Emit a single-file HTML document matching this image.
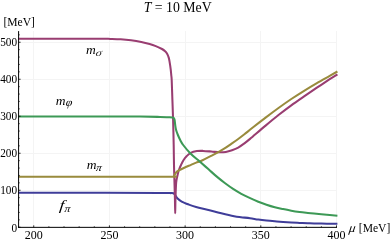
<!DOCTYPE html>
<html><head><meta charset="utf-8"><style>
html,body{margin:0;padding:0;background:#fff;}
body{width:390px;height:242px;overflow:hidden;font-family:"Liberation Serif",serif;}
svg{display:block;will-change:transform;opacity:0.999;}
text{font-family:"Liberation Serif",serif;font-size:12px;fill:#000;}
.i{font-style:italic;}
</style></head><body>
<svg width="390" height="242" viewBox="0 0 390 242">
<rect width="390" height="242" fill="#fff"/>
<g stroke="#f4f4f4" stroke-width="1"><line x1="33.50" y1="31" x2="33.50" y2="227.2"/><line x1="109.50" y1="31" x2="109.50" y2="227.2"/><line x1="185.50" y1="31" x2="185.50" y2="227.2"/><line x1="260.50" y1="31" x2="260.50" y2="227.2"/><line x1="336.50" y1="31" x2="336.50" y2="227.2"/><line x1="19" y1="42.50" x2="337" y2="42.50"/><line x1="19" y1="79.50" x2="337" y2="79.50"/><line x1="19" y1="116.50" x2="337" y2="116.50"/><line x1="19" y1="153.50" x2="337" y2="153.50"/><line x1="19" y1="190.50" x2="337" y2="190.50"/></g>
<path d="M18.30 192.70 C31.92 192.72 76.38 192.74 100.00 192.80 C123.62 192.86 148.33 193.00 160.00 193.05 C171.67 193.10 167.77 193.06 170.00 193.10 C172.23 193.14 172.52 192.93 173.40 193.30 C174.28 193.67 174.65 194.48 175.30 195.30 C175.95 196.12 176.23 197.15 177.30 198.20 C178.37 199.25 179.77 200.53 181.70 201.60 C183.63 202.67 186.50 203.72 188.90 204.60 C191.30 205.48 192.83 206.00 196.10 206.90 C199.37 207.80 204.30 208.93 208.50 210.00 C212.70 211.07 217.03 212.27 221.30 213.30 C225.57 214.33 230.82 215.55 234.10 216.20 C237.38 216.85 238.35 216.87 241.00 217.20 C243.65 217.53 247.12 217.80 250.00 218.20 C252.88 218.60 255.55 219.20 258.30 219.60 C261.05 220.00 263.75 220.31 266.50 220.60 C269.25 220.89 272.03 221.12 274.80 221.35 C277.57 221.58 280.35 221.81 283.10 222.00 C285.85 222.19 288.55 222.35 291.30 222.50 C294.05 222.65 296.83 222.78 299.60 222.90 C302.37 223.02 305.50 223.12 307.90 223.20 C310.30 223.28 310.83 223.32 314.00 223.40 C317.17 223.48 323.00 223.62 326.90 223.70 C330.80 223.77 335.65 223.82 337.40 223.85" fill="none" stroke="#3f3d99" stroke-width="2.05" stroke-linejoin="round" stroke-linecap="butt"/>
<path d="M18.30 38.70 C25.25 38.70 46.38 38.70 60.00 38.70 C73.62 38.70 91.62 38.67 100.00 38.70 C108.38 38.73 106.85 38.80 110.30 38.90 C113.75 39.00 117.25 39.07 120.70 39.30 C124.15 39.53 127.57 39.85 131.00 40.30 C134.43 40.75 138.20 41.38 141.30 42.00 C144.40 42.62 147.18 43.32 149.60 44.00 C152.02 44.68 153.73 45.27 155.80 46.10 C157.87 46.93 160.45 48.13 162.00 49.00 C163.55 49.87 164.25 50.50 165.10 51.30 C165.95 52.10 166.48 52.70 167.10 53.80 C167.72 54.90 168.35 56.35 168.80 57.90 C169.25 59.45 169.48 61.20 169.80 63.10 C170.12 65.00 170.45 67.23 170.70 69.30 C170.95 71.37 171.13 73.72 171.30 75.50 C171.47 77.28 171.52 75.92 171.70 80.00 C171.88 84.08 172.17 93.33 172.40 100.00 C172.63 106.67 172.88 112.50 173.10 120.00 C173.32 127.50 173.55 137.50 173.70 145.00 C173.85 152.50 173.86 158.33 174.00 165.00 C174.14 171.67 174.39 179.17 174.55 185.00 C174.71 190.83 174.84 195.30 174.95 200.00 C175.06 204.70 175.12 213.20 175.20 213.20 C175.28 213.20 175.32 204.70 175.45 200.00 C175.58 195.30 175.82 188.33 176.00 185.00 C176.18 181.67 176.23 181.67 176.50 180.00 C176.77 178.33 177.20 176.67 177.60 175.00 C178.00 173.33 178.33 171.67 178.90 170.00 C179.47 168.33 180.22 166.67 181.00 165.00 C181.78 163.33 182.63 161.50 183.60 160.00 C184.57 158.50 185.62 157.20 186.80 156.00 C187.98 154.80 189.02 153.62 190.70 152.80 C192.38 151.98 194.85 151.42 196.90 151.10 C198.95 150.78 200.60 150.83 203.00 150.90 C205.40 150.97 208.53 151.27 211.30 151.50 C214.07 151.73 217.18 152.23 219.60 152.30 C222.02 152.37 223.73 152.25 225.80 151.90 C227.87 151.55 229.93 150.92 232.00 150.20 C234.07 149.48 236.13 148.73 238.20 147.60 C240.27 146.47 242.43 144.85 244.40 143.40 C246.37 141.95 246.47 141.87 250.00 138.90 C253.53 135.93 260.85 129.58 265.60 125.60 C270.35 121.62 274.22 118.38 278.50 115.00 C282.78 111.62 287.03 108.40 291.30 105.30 C295.57 102.20 299.83 99.33 304.10 96.40 C308.37 93.47 312.63 90.57 316.90 87.70 C321.17 84.83 326.28 81.43 329.70 79.20 C333.12 76.97 336.12 75.12 337.40 74.30" fill="none" stroke="#993d71" stroke-width="2.05" stroke-linejoin="round" stroke-linecap="butt"/>
<path d="M18.30 176.75 C31.92 176.75 74.72 176.75 100.00 176.75 C125.28 176.75 157.90 176.75 170.00 176.75 C182.10 176.75 172.00 176.81 172.60 176.75 C173.20 176.69 173.28 176.69 173.60 176.40 C173.92 176.11 174.18 175.50 174.50 175.00 C174.82 174.50 175.08 173.97 175.50 173.40 C175.92 172.83 176.48 172.08 177.00 171.60 C177.52 171.12 177.98 170.85 178.60 170.50 C179.22 170.15 179.50 170.08 180.70 169.50 C181.90 168.92 184.08 167.77 185.80 167.00 C187.52 166.23 189.27 165.63 191.00 164.90 C192.73 164.17 194.53 163.25 196.20 162.60 C197.87 161.95 198.48 162.13 201.00 161.00 C203.52 159.87 208.20 157.42 211.30 155.80 C214.40 154.18 217.18 152.67 219.60 151.30 C222.02 149.93 223.73 148.92 225.80 147.60 C227.87 146.28 229.93 144.83 232.00 143.40 C234.07 141.97 236.13 140.52 238.20 139.00 C240.27 137.48 241.97 136.22 244.40 134.30 C246.83 132.38 249.27 130.28 252.80 127.50 C256.33 124.72 261.32 120.85 265.60 117.60 C269.88 114.35 274.22 111.10 278.50 108.00 C282.78 104.90 287.03 101.87 291.30 99.00 C295.57 96.13 299.83 93.45 304.10 90.80 C308.37 88.15 312.63 85.58 316.90 83.10 C321.17 80.62 326.28 77.83 329.70 75.90 C333.12 73.97 336.12 72.23 337.40 71.50" fill="none" stroke="#998b3d" stroke-width="2.05" stroke-linejoin="round" stroke-linecap="butt"/>
<path d="M18.30 116.45 C31.92 116.46 79.72 116.47 100.00 116.50 C120.28 116.53 130.00 116.52 140.00 116.60 C150.00 116.67 155.33 116.84 160.00 116.95 C164.67 117.06 165.93 117.16 168.00 117.25 C170.07 117.34 171.42 117.34 172.40 117.50 C173.38 117.66 173.53 117.78 173.90 118.20 C174.27 118.62 174.38 118.87 174.60 120.00 C174.82 121.13 174.95 123.33 175.20 125.00 C175.45 126.67 175.65 128.33 176.10 130.00 C176.55 131.67 177.22 133.33 177.90 135.00 C178.58 136.67 179.32 138.33 180.20 140.00 C181.08 141.67 181.45 142.70 183.20 145.00 C184.95 147.30 187.90 151.00 190.70 153.80 C193.50 156.60 197.07 159.25 200.00 161.80 C202.93 164.35 205.55 166.67 208.30 169.10 C211.05 171.53 213.75 174.08 216.50 176.40 C219.25 178.72 222.03 180.92 224.80 183.00 C227.57 185.08 230.35 187.10 233.10 188.90 C235.85 190.70 238.55 192.30 241.30 193.80 C244.05 195.30 246.77 196.58 249.60 197.90 C252.43 199.22 255.48 200.56 258.30 201.70 C261.12 202.84 263.75 203.82 266.50 204.75 C269.25 205.68 272.03 206.53 274.80 207.25 C277.57 207.97 280.35 208.53 283.10 209.10 C285.85 209.67 288.55 210.18 291.30 210.65 C294.05 211.12 296.83 211.53 299.60 211.90 C302.37 212.28 305.50 212.62 307.90 212.90 C310.30 213.18 310.83 213.24 314.00 213.55 C317.17 213.86 323.00 214.40 326.90 214.75 C330.80 215.10 335.65 215.50 337.40 215.65" fill="none" stroke="#3d9956" stroke-width="2.05" stroke-linejoin="round" stroke-linecap="butt"/>

<g stroke="#000" stroke-width="1"><line x1="18.6" y1="31.1" x2="18.6" y2="227.85"/><line x1="18.1" y1="227.35" x2="337" y2="227.35"/></g>
<g stroke="#000" stroke-width="0.5"><line x1="18.60" y1="227.35" x2="18.60" y2="226.05" stroke-width="0.6"/><line x1="33.74" y1="227.35" x2="33.74" y2="225.35" stroke-width="0.8"/><line x1="48.88" y1="227.35" x2="48.88" y2="226.05" stroke-width="0.6"/><line x1="64.01" y1="227.35" x2="64.01" y2="226.05" stroke-width="0.6"/><line x1="79.15" y1="227.35" x2="79.15" y2="226.05" stroke-width="0.6"/><line x1="94.29" y1="227.35" x2="94.29" y2="226.05" stroke-width="0.6"/><line x1="109.43" y1="227.35" x2="109.43" y2="225.35" stroke-width="0.8"/><line x1="124.57" y1="227.35" x2="124.57" y2="226.05" stroke-width="0.6"/><line x1="139.70" y1="227.35" x2="139.70" y2="226.05" stroke-width="0.6"/><line x1="154.84" y1="227.35" x2="154.84" y2="226.05" stroke-width="0.6"/><line x1="169.98" y1="227.35" x2="169.98" y2="226.05" stroke-width="0.6"/><line x1="185.12" y1="227.35" x2="185.12" y2="225.35" stroke-width="0.8"/><line x1="200.26" y1="227.35" x2="200.26" y2="226.05" stroke-width="0.6"/><line x1="215.40" y1="227.35" x2="215.40" y2="226.05" stroke-width="0.6"/><line x1="230.53" y1="227.35" x2="230.53" y2="226.05" stroke-width="0.6"/><line x1="245.67" y1="227.35" x2="245.67" y2="226.05" stroke-width="0.6"/><line x1="260.81" y1="227.35" x2="260.81" y2="225.35" stroke-width="0.8"/><line x1="275.95" y1="227.35" x2="275.95" y2="226.05" stroke-width="0.6"/><line x1="291.09" y1="227.35" x2="291.09" y2="226.05" stroke-width="0.6"/><line x1="306.22" y1="227.35" x2="306.22" y2="226.05" stroke-width="0.6"/><line x1="321.36" y1="227.35" x2="321.36" y2="226.05" stroke-width="0.6"/><line x1="336.50" y1="227.35" x2="336.50" y2="225.35" stroke-width="0.8"/><line x1="18.6" y1="227.25" x2="20.60" y2="227.25" stroke-width="0.8"/><line x1="18.6" y1="219.85" x2="19.90" y2="219.85" stroke-width="0.6"/><line x1="18.6" y1="212.45" x2="19.90" y2="212.45" stroke-width="0.6"/><line x1="18.6" y1="205.05" x2="19.90" y2="205.05" stroke-width="0.6"/><line x1="18.6" y1="197.65" x2="19.90" y2="197.65" stroke-width="0.6"/><line x1="18.6" y1="190.25" x2="20.60" y2="190.25" stroke-width="0.8"/><line x1="18.6" y1="182.85" x2="19.90" y2="182.85" stroke-width="0.6"/><line x1="18.6" y1="175.45" x2="19.90" y2="175.45" stroke-width="0.6"/><line x1="18.6" y1="168.05" x2="19.90" y2="168.05" stroke-width="0.6"/><line x1="18.6" y1="160.65" x2="19.90" y2="160.65" stroke-width="0.6"/><line x1="18.6" y1="153.25" x2="20.60" y2="153.25" stroke-width="0.8"/><line x1="18.6" y1="145.85" x2="19.90" y2="145.85" stroke-width="0.6"/><line x1="18.6" y1="138.45" x2="19.90" y2="138.45" stroke-width="0.6"/><line x1="18.6" y1="131.05" x2="19.90" y2="131.05" stroke-width="0.6"/><line x1="18.6" y1="123.65" x2="19.90" y2="123.65" stroke-width="0.6"/><line x1="18.6" y1="116.25" x2="20.60" y2="116.25" stroke-width="0.8"/><line x1="18.6" y1="108.85" x2="19.90" y2="108.85" stroke-width="0.6"/><line x1="18.6" y1="101.45" x2="19.90" y2="101.45" stroke-width="0.6"/><line x1="18.6" y1="94.05" x2="19.90" y2="94.05" stroke-width="0.6"/><line x1="18.6" y1="86.65" x2="19.90" y2="86.65" stroke-width="0.6"/><line x1="18.6" y1="79.25" x2="20.60" y2="79.25" stroke-width="0.8"/><line x1="18.6" y1="71.85" x2="19.90" y2="71.85" stroke-width="0.6"/><line x1="18.6" y1="64.45" x2="19.90" y2="64.45" stroke-width="0.6"/><line x1="18.6" y1="57.05" x2="19.90" y2="57.05" stroke-width="0.6"/><line x1="18.6" y1="49.65" x2="19.90" y2="49.65" stroke-width="0.6"/><line x1="18.6" y1="42.25" x2="20.60" y2="42.25" stroke-width="0.8"/><line x1="18.6" y1="34.85" x2="19.90" y2="34.85" stroke-width="0.6"/></g>
<g><text x="33.74" y="239.1" text-anchor="middle">200</text><text x="109.43" y="239.1" text-anchor="middle">250</text><text x="185.12" y="239.1" text-anchor="middle">300</text><text x="260.81" y="239.1" text-anchor="middle">350</text><text x="336.50" y="239.1" text-anchor="middle">400</text><text transform="translate(17.05,231.70) scale(0.94,1)" text-anchor="end">0</text><text transform="translate(17.05,194.35) scale(0.94,1)" text-anchor="end">100</text><text transform="translate(17.05,157.35) scale(0.94,1)" text-anchor="end">200</text><text transform="translate(17.05,120.35) scale(0.94,1)" text-anchor="end">300</text><text transform="translate(17.05,83.35) scale(0.94,1)" text-anchor="end">400</text><text transform="translate(17.05,46.35) scale(0.94,1)" text-anchor="end">500</text></g>
<text x="177.7" y="12.1" text-anchor="middle" style="font-size:13.8px"><tspan class="i">T</tspan> = 10 MeV</text>
<text x="3.4" y="26" style="font-size:11.6px">[MeV]</text>
<text transform="translate(348.6,231.6) skewX(-8) scale(1.05,1)" class="i" style="font-size:12.5px">μ</text><text x="358.8" y="232.1" style="font-size:11.6px">[MeV]</text>
<g class="i">
<text x="85.9" y="53.9" style="font-size:13.5px">m</text><text transform="translate(95.2,56) skewX(-10) scale(1.25,1)" style="font-size:10px;fill:#222">σ</text>
<text x="55.7" y="105" style="font-size:13.5px">m</text><text transform="translate(65.5,105.9) skewX(-6) scale(1.05,1)" style="font-size:11.3px">φ</text>
<text x="86.7" y="168.8" style="font-size:13.5px">m</text><text transform="translate(95.8,170.9) skewX(-8) scale(1.06,1)" style="font-size:10.5px">π</text>
<text transform="translate(59,210.2) skewX(-6) scale(1.25,1)" style="font-size:14.2px">f</text><text transform="translate(64.3,211.6) skewX(-8) scale(1.08,1)" style="font-size:10.5px">π</text>
</g>
</svg>
</body></html>
